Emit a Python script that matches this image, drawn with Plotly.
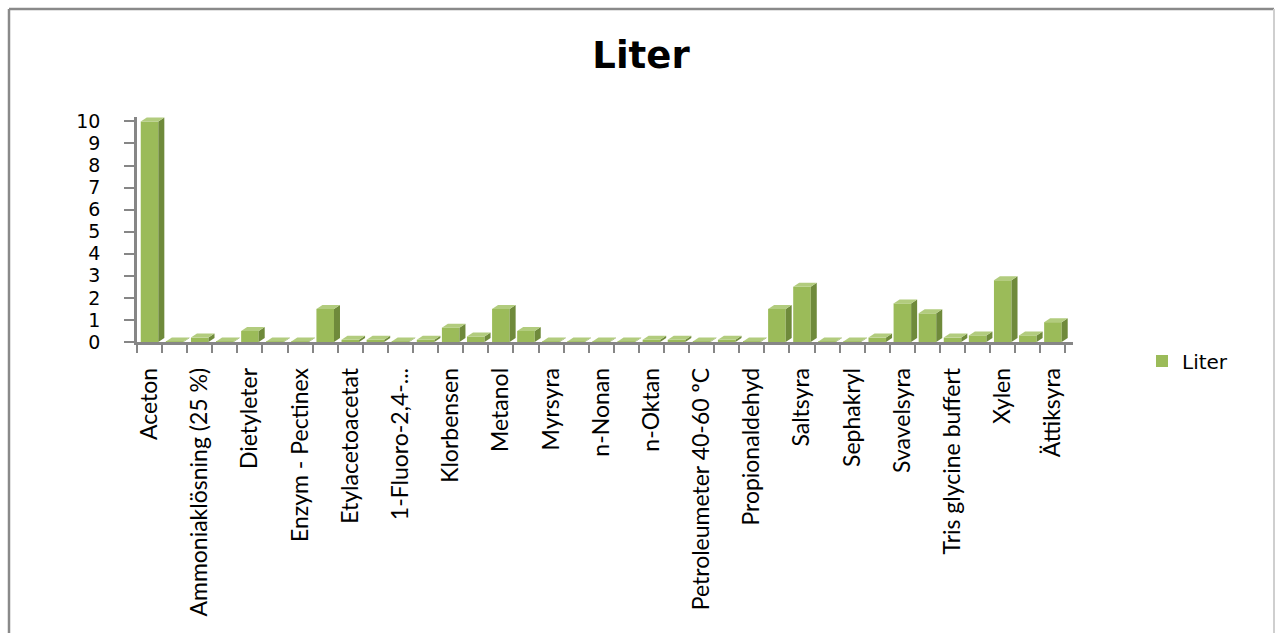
import plotly.graph_objects as go

# ---------------- data ----------------
categories = [
    "Aceton", "Acetonitril", "Ammoniaklösning (25 %)", "Butanol", "Dietyleter",
    "Dimetylsulfoxid", "Enzym - Pectinex", "Etanol", "Etylacetoacetat", "Etylacetat",
    "1-Fluoro-2,4-dinitrobensen", "Hexan", "Klorbensen", "Kloroform", "Metanol",
    "Metylenklorid", "Myrsyra", "n-Heptan", "n-Nonan", "n-Oktanol", "n-Oktan",
    "Pentan", "Petroleumeter 40-60 ºC", "Propanol", "Propionaldehyd", "Pyridin",
    "Saltsyra", "Sephadex", "Sephakryl", "Svaveldioxid", "Svavelsyra", "Toluen",
    "Tris glycine buffert", "Vätesuperoxid", "Xylen", "Zinkklorid", "Ättiksyra",
]
liter = [
    10, 0.02, 0.2, 0.02, 0.5,
    0.02, 0.02, 1.5, 0.1, 0.1,
    0.02, 0.1, 0.65, 0.25, 1.5,
    0.5, 0.02, 0.02, 0.02, 0.02, 0.1,
    0.1, 0.02, 0.1, 0.02, 1.5,
    2.5, 0.02, 0.02, 0.2, 1.75, 1.3,
    0.2, 0.3, 2.8, 0.3, 0.9,
]
y_ticks = list(range(0, 11))
series_name = "Liter"
title_text = "Liter"

# ---------------- style ----------------
W, H = 1275, 633
ML, MR, MT, MB = 137, 202, 117, 291
YMAX = 10.2
XMIN, XMAX = -0.5, 36.8
FRONT = "#9bbb59"
SIDE = "#6f8a3b"
TOP = "#b2cc7e"
AXIS = "#868686"
BAR_W = 0.7
MAX_LABEL = 22

plot_w = W - ML - MR
plot_h = H - MT - MB
px_x = (XMAX - XMIN) / plot_w   # data units per pixel (x)
px_y = YMAX / plot_h            # data units per pixel (y)
DX = 6 * px_x
DY = 4 * px_y

fig = go.Figure()
fig.add_trace(go.Bar(
    x=categories, y=liter, name=series_name,
    marker=dict(color=FRONT, line=dict(width=0)),
    width=BAR_W, showlegend=True,
))

# pseudo-3D faces derived from the data
shapes = []
h = BAR_W / 2
for i, v in enumerate(liter):
    side = (f"M {i+h},0 L {i+h},{v} L {i+h+DX},{v+DY} L {i+h+DX},{DY} Z")
    top = (f"M {i-h},{v} L {i+h},{v} L {i+h+DX},{v+DY} L {i-h+DX},{v+DY} Z")
    shapes.append(dict(type="path", path=side, xref="x", yref="y",
                       fillcolor=SIDE, line=dict(width=0), layer="above"))
    shapes.append(dict(type="path", path=top, xref="x", yref="y",
                       fillcolor=TOP, line=dict(width=0), layer="above"))


def pxx(p):
    return (p - ML) / plot_w


def pxy(p):
    return (H - MB - p) / plot_h


# chart-area border
shapes.append(dict(type="line", xref="paper", yref="paper",
                   x0=pxx(9), x1=pxx(9), y0=pxy(9), y1=pxy(H + 10),
                   line=dict(color="#8a8a8a", width=2.5)))
shapes.append(dict(type="line", xref="paper", yref="paper",
                   x0=pxx(9), x1=pxx(1274), y0=pxy(9), y1=pxy(9),
                   line=dict(color="#8a8a8a", width=2.5)))
shapes.append(dict(type="line", xref="paper", yref="paper",
                   x0=pxx(1274), x1=pxx(1274), y0=pxy(9), y1=pxy(H + 10),
                   line=dict(color="#cfcfcf", width=2)))


def short(name):
    return name if len(name) <= MAX_LABEL else name[:13] + "..."


ticktext = [short(c) if i % 2 == 0 else "" for i, c in enumerate(categories)]

fig.update_layout(
    width=W, height=H,
    margin=dict(l=ML, r=MR, t=MT, b=MB),
    paper_bgcolor="white", plot_bgcolor="white",
    shapes=shapes,
    bargap=0.3,
    title=dict(text=title_text, x=641 / W, xref="container", xanchor="center",
               y=1 - 55 / H, yref="container", yanchor="middle",
               font=dict(family="DejaVu Sans", size=37, color="black", weight="bold")),
    xaxis=dict(
        type="category", categoryorder="array", categoryarray=categories,
        range=[XMIN, XMAX],
        tickmode="array", tickvals=categories, ticktext=ticktext,
        tickson="boundaries", ticks="outside", ticklen=8, tickwidth=2,
        tickcolor=AXIS, showline=True, linecolor=AXIS, linewidth=2.5,
        showgrid=False, tickangle=-90, ticklabelstandoff=14,
        tickfont=dict(family="Lato", size=23, color="black"),
    ),
    yaxis=dict(
        range=[0, YMAX], tickmode="array", tickvals=y_ticks,
        ticks="outside", ticklen=10, tickwidth=2, tickcolor=AXIS,
        showline=True, linecolor=AXIS, linewidth=2.5, showgrid=False,
        zeroline=False, ticklabelstandoff=20,
        tickfont=dict(family="DejaVu Sans", size=19, color="black"),
    ),
    legend=dict(x=1142 / W, xref="container", xanchor="left",
                y=1 - 361 / H, yref="container", yanchor="middle",
                font=dict(family="DejaVu Sans", size=20, color="black"),
                bgcolor="rgba(0,0,0,0)"),
    showlegend=True,
)

fig.write_html("out.html")
